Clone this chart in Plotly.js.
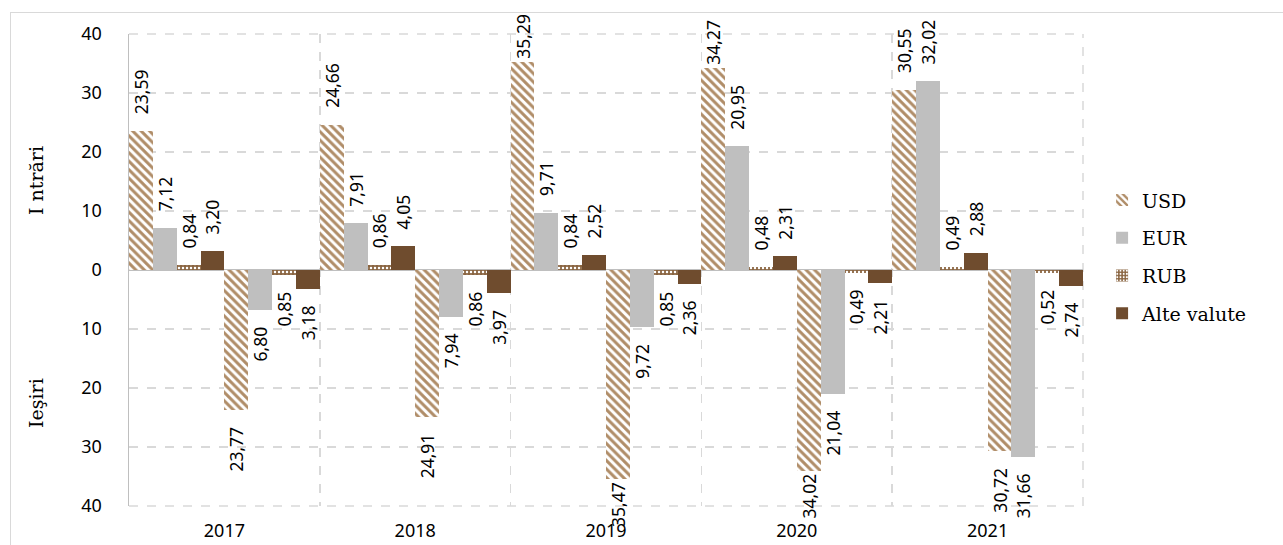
<!DOCTYPE html>
<html>
<head>
<meta charset="utf-8">
<script src="https://cdn.plot.ly/plotly-3.0.1.min.js"></script>
<style>
  html, body { margin: 0; padding: 0; background: #fff; overflow: hidden; }
  #frame { position: absolute; left: 10px; top: 12px; width: 1300px; height: 600px;
           border-left: 1.5px solid #d9d9d9; border-top: 1.5px solid #d9d9d9; pointer-events: none; z-index: 5; }
  #chart { position: absolute; left: 0; top: 0; width: 1283px; height: 545px; }
</style>
</head>
<body>
<div id="chart"></div>
<div id="frame"></div>
<script>
const years = ['2017', '2018', '2019', '2020', '2021'];
const currencies = ['USD', 'EUR', 'RUB', 'Alte valute'];

// Intrări (inflows)
const inUSD  = [23.59, 24.66, 35.29, 34.27, 30.55];
const inEUR  = [7.12, 7.91, 9.71, 20.95, 32.02];
const inRUB  = [0.84, 0.86, 0.84, 0.48, 0.49];
const inAlte = [3.20, 4.05, 2.52, 2.31, 2.88];

// Ieşiri (outflows)
const outUSD  = [23.77, 24.91, 35.47, 34.02, 30.72];
const outEUR  = [6.80, 7.94, 9.72, 21.04, 31.66];
const outRUB  = [0.85, 0.86, 0.85, 0.49, 0.52];
const outAlte = [3.18, 3.97, 2.36, 2.21, 2.74];

const yTickVals = [-40, -30, -20, -10, 0, 10, 20, 30, 40];
const yTickText = ['40', '30', '20', '10', '0', '10', '20', '30', '40'];

const brownStripe = '#b08d68';
const grayEUR = '#bfbfbf';
const brownRUB = '#8a6541';
const brownAlte = '#6f4c2e';

const styles = {
  'USD': { color: brownStripe, pattern: { shape: '\\', fgcolor: brownStripe, bgcolor: '#ffffff', size: 6, solidity: 0.5, fillmode: 'replace' } },
  'EUR': { color: grayEUR },
  'RUB': { color: brownRUB, pattern: { shape: '.', fgcolor: '#ffffff', bgcolor: brownRUB, size: 4, solidity: 0.3, fillmode: 'replace' } },
  'Alte valute': { color: brownAlte }
};

const fmt = v => v.toFixed(2).replace('.', ',');
// labels of very tall bars sit closer to the bar (kept inside the chart, as in the original)
const pad = v => (v > 33 ? '' : '\u00A0\u00A0\u00A0');

const labelFont = { family: 'Noto Sans, sans-serif', size: 17.5, color: '#000' };

function mkTrace(name, vals, sign) {
  return {
    type: 'bar',
    x: years,
    y: vals.map(v => sign * v),
    name: name,
    legendgroup: name,
    showlegend: sign > 0,
    marker: Object.assign({ line: { width: 0 } }, styles[name]),
    text: vals.map(v => sign > 0 ? pad(v) + fmt(v) : fmt(v) + pad(v)),
    textposition: 'outside',
    textangle: -90,
    constraintext: 'none',
    cliponaxis: false,
    outsidetextfont: labelFont,
    hoverinfo: 'skip'
  };
}

const data = [
  mkTrace('USD', inUSD, 1),
  mkTrace('EUR', inEUR, 1),
  mkTrace('RUB', inRUB, 1),
  mkTrace('Alte valute', inAlte, 1),
  mkTrace('USD', outUSD, -1),
  mkTrace('EUR', outEUR, -1),
  mkTrace('RUB', outRUB, -1),
  mkTrace('Alte valute', outAlte, -1)
];

const dashLine = { color: '#d9d9d9', width: 1.5, dash: 'dash' };

const layout = {
  width: 1283,
  height: 545,
  margin: { l: 129, r: 200, t: 34, b: 39 },
  paper_bgcolor: 'rgba(0,0,0,0)',
  plot_bgcolor: '#ffffff',
  barmode: 'group',
  bargap: 0,
  bargroupgap: 0,
  showlegend: true,
  legend: {
    x: 1.02, xanchor: 'left', y: 0.688, yanchor: 'top',
    font: { family: 'DejaVu Serif, serif', size: 19, color: '#000' },
    tracegroupgap: 10,
    bgcolor: 'rgba(0,0,0,0)'
  },
  xaxis: {
    type: 'category',
    tickson: 'boundaries',
    showgrid: true,
    gridcolor: '#d9d9d9',
    griddash: 'dash',
    gridwidth: 1.5,
    ticks: '',
    showline: false,
    zeroline: false,
    tickfont: { family: 'Noto Sans, sans-serif', size: 18, color: '#000' },
    ticklabelstandoff: 12
  },
  yaxis: {
    range: [-40, 40],
    tickvals: yTickVals,
    ticktext: yTickText,
    showgrid: true,
    gridcolor: '#d9d9d9',
    griddash: 'dash',
    gridwidth: 1.5,
    zeroline: true,
    zerolinecolor: '#bfbfbf',
    zerolinewidth: 2,
    showline: true,
    linecolor: '#bfbfbf',
    linewidth: 1.5,
    ticks: '',
    tickfont: { family: 'Noto Sans, sans-serif', size: 18, color: '#000' },
    ticklabelstandoff: 22
  },
  shapes: [
    { type: 'line', xref: 'paper', yref: 'paper', x0: 0, x1: 1, y0: 1, y1: 1, line: dashLine, layer: 'below' },
    { type: 'line', xref: 'paper', yref: 'paper', x0: 0, x1: 1, y0: 0, y1: 0, line: dashLine, layer: 'below' },
    { type: 'line', xref: 'paper', yref: 'paper', x0: 1, x1: 1, y0: 0, y1: 1, line: dashLine, layer: 'below' }
  ],
  annotations: [
    { text: 'I ntrări', xref: 'paper', yref: 'paper', x: (36 - 129) / 954, y: (506 - 181) / 472,
      xanchor: 'center', yanchor: 'middle', textangle: -90, showarrow: false,
      font: { family: 'DejaVu Serif, serif', size: 19, color: '#000' } },
    { text: 'Ieşiri', xref: 'paper', yref: 'paper', x: (36 - 129) / 954, y: (506 - 403) / 472,
      xanchor: 'center', yanchor: 'middle', textangle: -90, showarrow: false,
      font: { family: 'DejaVu Serif, serif', size: 19, color: '#000' } }
  ]
};

Plotly.newPlot('chart', data, layout, { displayModeBar: false, staticPlot: true });
</script>
</body>
</html>
